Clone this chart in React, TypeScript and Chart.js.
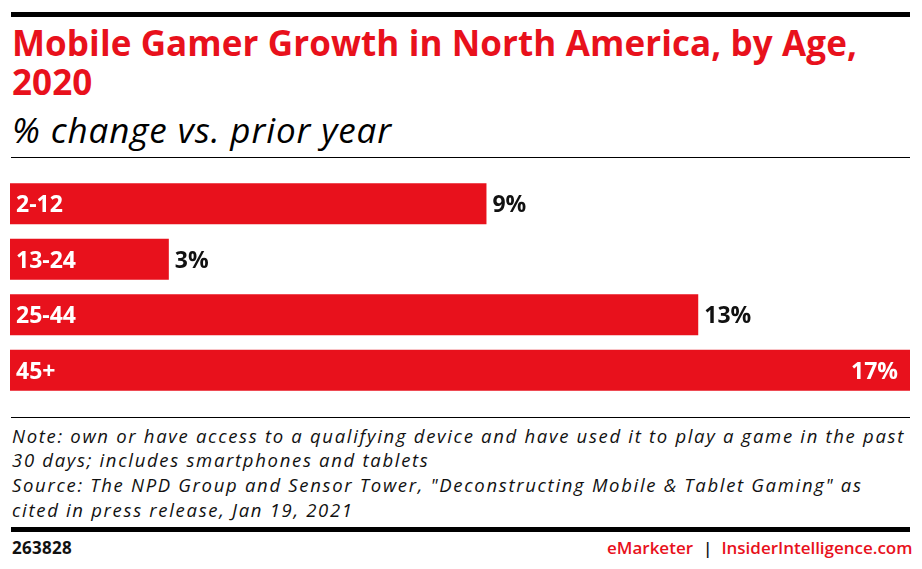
import React, { useEffect, useRef } from "react";
import { Chart, registerables } from "chart.js";

Chart.register(...registerables);

const categories = ["2-12", "13-24", "25-44", "45+"];
const values = [9, 3, 13, 17];
const valueLabels = ["9%", "3%", "13%", "17%"];
const axisMax = 17;

const titleLines = ["Mobile Gamer Growth in North America, by Age,", "2020"];
const subtitle = "% change vs. prior year";
const noteLines = [
  "Note: own or have access to a qualifying device and have used it to play a game in the past",
  "30 days; includes smartphones and tablets",
  'Source: The NPD Group and Sensor Tower, "Deconstructing Mobile & Tablet Gaming" as',
  "cited in press release, Jan 19, 2021",
];
const chartId = "263828";
const brandA = "eMarketer";
const brandB = "InsiderIntelligence.com";

const RED = "#e8111c";
const FAM = "'Open Sans', Lato, sans-serif";
const LABEL_FONT = `bold 23px ${FAM}`;

let measureCtx: CanvasRenderingContext2D | null = null;
function textWidth(text: string, font: string): number {
  if (!measureCtx) measureCtx = document.createElement("canvas").getContext("2d");
  if (!measureCtx) return 0;
  measureCtx.font = font;
  return measureCtx.measureText(text).width;
}
function fitSpacing(text: string, font: string, target: number): number {
  const w = textWidth(text, font);
  return (target - w) / Math.max(1, text.length);
}

const labelPlugin = {
  id: "barLabels",
  afterDatasetsDraw(chart: any) {
    const ctx = chart.ctx;
    const meta = chart.getDatasetMeta(0);
    ctx.save();
    ctx.font = LABEL_FONT;
    ctx.textBaseline = "alphabetic";
    meta.data.forEach((bar: any, i: number) => {
      const left = bar.base;
      const right = bar.x;
      const y = bar.y + 8.5;
      ctx.fillStyle = "#ffffff";
      ctx.textAlign = "left";
      ctx.fillText(categories[i], left + 6, y);
      const txt = valueLabels[i];
      const w = ctx.measureText(txt).width;
      if (right + 8 + w > chart.width) {
        ctx.textAlign = "right";
        ctx.fillStyle = "#ffffff";
        ctx.fillText(txt, right - 12, y);
      } else {
        ctx.textAlign = "left";
        ctx.fillStyle = "#111111";
        ctx.fillText(txt, right + 6, y);
      }
    });
    ctx.restore();
  },
};

export default function App() {
  const ref = useRef<HTMLCanvasElement | null>(null);
  useEffect(() => {
    if (!ref.current) return;
    const chart = new Chart(ref.current, {
      type: "bar",
      data: {
        labels: categories,
        datasets: [
          {
            data: values,
            backgroundColor: RED,
            borderWidth: 0,
            barPercentage: 41 / 55.5,
            categoryPercentage: 1,
          },
        ],
      },
      options: {
        indexAxis: "y",
        animation: false,
        responsive: false,
        maintainAspectRatio: false,
        layout: { padding: { left: 10, right: 12, top: 6, bottom: 12 } },
        plugins: { legend: { display: false }, tooltip: { enabled: false } },
        scales: {
          x: { min: 0, max: axisMax, display: false },
          y: { display: false },
        },
      },
      plugins: [labelPlugin],
    });
    return () => chart.destroy();
  }, []);

  const abs = (o: React.CSSProperties): React.CSSProperties => ({ position: "absolute", margin: 0, whiteSpace: "nowrap", ...o });

  const titleFont = `bold 35px ${FAM}`;
  const titleLS = fitSpacing(titleLines[0], titleFont, 845);
  const subFont = `italic 35px ${FAM}`;
  const subLS = fitSpacing(subtitle, subFont, 380);
  const noteFont = `italic 18.5px ${FAM}`;
  const noteLS = fitSpacing(noteLines[0], noteFont, 893);
  const idFont = `bold 17px ${FAM}`;
  const idLS = fitSpacing(chartId, idFont, 60);
  const brandFont = `600 17px ${FAM}`;
  const brandALS = fitSpacing(brandA, brandFont, 86);
  const brandBLS = fitSpacing(brandB, brandFont, 191);

  return (
    <div style={{ position: "absolute", left: 0, top: 0, width: 922, height: 569, background: "#fff", overflow: "hidden" }}>
      <div style={abs({ left: 11, top: 12, width: 899, height: 5, background: "#000" })} />
      <div
        style={abs({
          left: 12,
          top: 24,
          color: RED,
          font: titleFont,
          lineHeight: "38.5px",
          letterSpacing: `${titleLS}px`,
        })}
      >
        {titleLines[0]}
        <br />
        {titleLines[1]}
      </div>
      <div
        style={abs({
          left: 12,
          top: 109.5,
          color: "#000",
          font: subFont,
          lineHeight: "40px",
          letterSpacing: `${subLS}px`,
        })}
      >
        {subtitle}
      </div>
      <div style={abs({ left: 11, top: 157, width: 899, height: 1, background: "#000" })} />
      <canvas ref={ref} width={922} height={240} style={abs({ left: 0, top: 170, width: 922, height: 240 })} />
      <div style={abs({ left: 11, top: 417, width: 899, height: 1, background: "#000" })} />
      <div
        style={abs({
          left: 12,
          top: 423.5,
          color: "#111",
          font: noteFont,
          lineHeight: "24.7px",
          letterSpacing: `${noteLS}px`,
        })}
      >
        {noteLines.map((l, i) => (
          <div key={i}>{l}</div>
        ))}
      </div>
      <div style={abs({ left: 11, top: 527, width: 899, height: 5, background: "#000" })} />
      <div style={abs({ left: 12, top: 537, font: idFont, color: "#111", lineHeight: "22px", letterSpacing: `${idLS}px` })}>
        {chartId}
      </div>
      <div style={abs({ left: 607, top: 537, font: brandFont, lineHeight: "22px" })}>
        <span style={{ color: RED, letterSpacing: `${brandALS}px` }}>{brandA}</span>
        <span style={{ color: "#111", margin: "0 9px 0 10px" }}>|</span>
        <span style={{ color: RED, letterSpacing: `${brandBLS}px` }}>{brandB}</span>
      </div>
    </div>
  );
}
